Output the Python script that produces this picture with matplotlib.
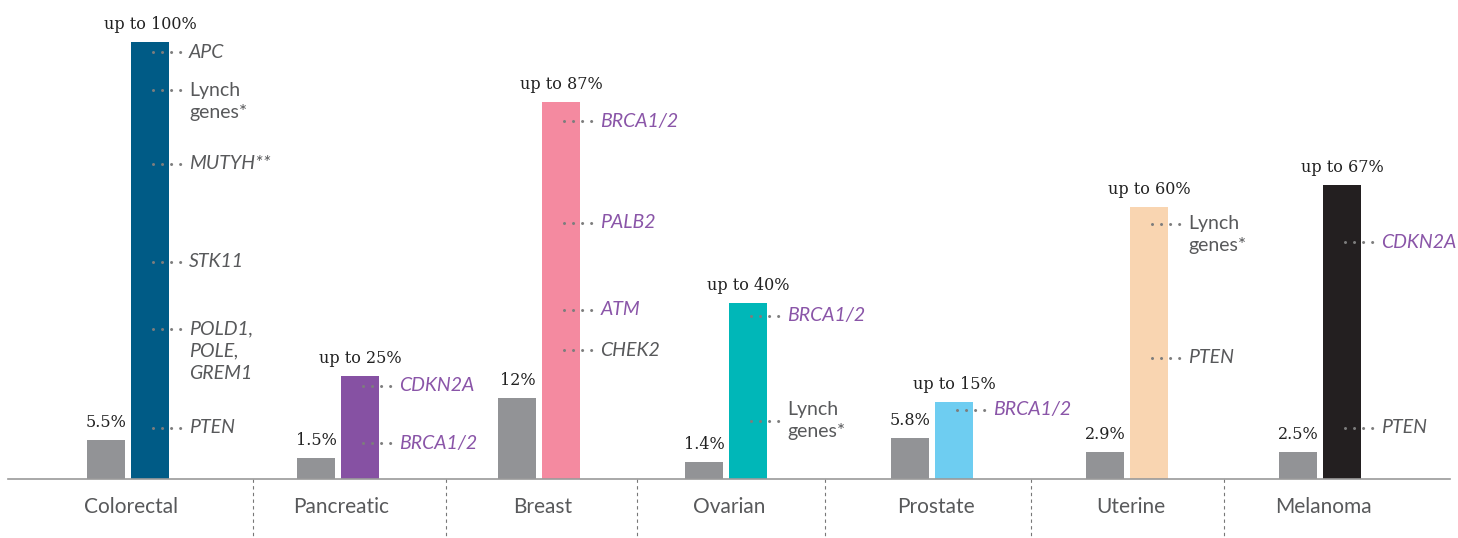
import matplotlib
matplotlib.use("Agg")
import matplotlib.pyplot as plt

# cancer types and their risk figures (as drawn in the original chart)
categories = ["Colorectal", "Pancreatic", "Breast", "Ovarian", "Prostate", "Uterine", "Melanoma"]
general_labels = ["5.5%", "1.5%", "12%", "1.4%", "5.8%", "2.9%", "2.5%"]
general_heights = [8.9, 4.8, 18.5, 3.9, 9.4, 6.2, 6.2]
carrier_labels = ["up to 100%", "up to 25%", "up to 87%", "up to 40%", "up to 15%", "up to 60%", "up to 67%"]
carrier_heights = [100, 23.6, 86.3, 40.3, 17.6, 62.2, 67.3]
carrier_colors = ["#005b86", "#8651a3", "#f48aa0", "#00b7b8", "#6ecdf1", "#f9d5b1", "#231f20"]

# genes listed next to each bar: (text, italic, purple)
genes = [
    [("APC", True, False), ("Lynch\ngenes*", False, False), ("MUTYH**", True, False),
     ("STK11", True, False), ("POLD1,\nPOLE,\nGREM1", True, False), ("PTEN", True, False)],
    [("CDKN2A", True, True), ("BRCA1/2", True, True)],
    [("BRCA1/2", True, True), ("PALB2", True, True), ("ATM", True, True), ("CHEK2", True, False)],
    [("BRCA1/2", True, True), ("Lynch\ngenes*", False, False)],
    [("BRCA1/2", True, True)],
    [("Lynch\ngenes*", False, False), ("PTEN", True, False)],
    [("CDKN2A", True, True), ("PTEN", True, False)],
]

# layout (pixel-like x axis, percent-like y axis)
group_x = [128, 338.5, 539.5, 726.5, 932.5, 1127.5, 1320.5]
gene_y = [
    [97.7, 89.0, 72.1, 49.7, 34.3, 11.7],
    [21.3, 8.2],
    [81.9, 58.6, 38.7, 29.5],
    [37.3, 13.3],
    [15.8],
    [58.4, 27.7],
    [54.2, 11.7],
]
centered_block = [[False] * len(g) for g in genes]
centered_block[3][1] = True
separators = [253, 446, 637, 825, 1031, 1224]
bar_w = 38
half_gap = 22

grey = "#929396"
text_dark = "#222222"
text_grey = "#58595b"
text_purple = "#8a55a8"
dot_color = "#7d7d7d"

sans = ["Lato", "DejaVu Sans"]
serif = ["DejaVu Serif"]

fig = plt.figure(figsize=(14.58, 5.38), dpi=100)
ax = fig.add_axes([0, 0, 1, 1])
ax.set_xlim(0, 1458)
ax.set_ylim(-13.5, 109.6)
ax.axis("off")

gx = [x - half_gap for x in group_x]
cx = [x + half_gap for x in group_x]
ax.bar(gx, general_heights, width=bar_w, color=grey, zorder=2)
ax.bar(cx, carrier_heights, width=bar_w, color=carrier_colors, zorder=2)

for i, cat in enumerate(categories):
    ax.annotate(general_labels[i], (gx[i], general_heights[i]), xytext=(0, 9.5),
                textcoords="offset points", ha="center", va="baseline",
                fontsize=11.5, family=serif, color=text_dark)
    ax.annotate(carrier_labels[i], (cx[i], carrier_heights[i]), xytext=(0, 9.5),
                textcoords="offset points", ha="center", va="baseline",
                fontsize=11.5, family=serif, color=text_dark)
    ax.text(group_x[i] + 3, -6.4, cat, ha="center", va="center",
            fontsize=15, family=sans, color=text_grey)

    right = cx[i] + bar_w / 2
    for (label, italic, purple), y, centered in zip(genes[i], gene_y[i], centered_block[i]):
        ax.plot([right - 16, right + 12], [y, y], color=dot_color, lw=2.2,
                linestyle=(0, (0.01, 2.95)), dash_capstyle="round", zorder=3)
        lines = label.split("\n")
        n = len(lines)
        for k, line in enumerate(lines):
            off = -k * 16
            if centered:
                off += (n - 1) / 2 * 16
            ax.annotate(line, (right + 20, y), xytext=(0, off), textcoords="offset points",
                        ha="left", va="center", fontsize=14, family=sans,
                        style="italic" if italic else "normal",
                        color=text_purple if purple else text_grey)

# baseline and category separators
ax.plot([8, 1450], [0, 0], color="#9a9a9a", lw=1.2, zorder=4)
for sx in separators:
    ax.plot([sx, sx], [0, -13.5], color="#777777", lw=0.8, linestyle=(0, (3, 3)))

fig.savefig("out.png", dpi=100)
